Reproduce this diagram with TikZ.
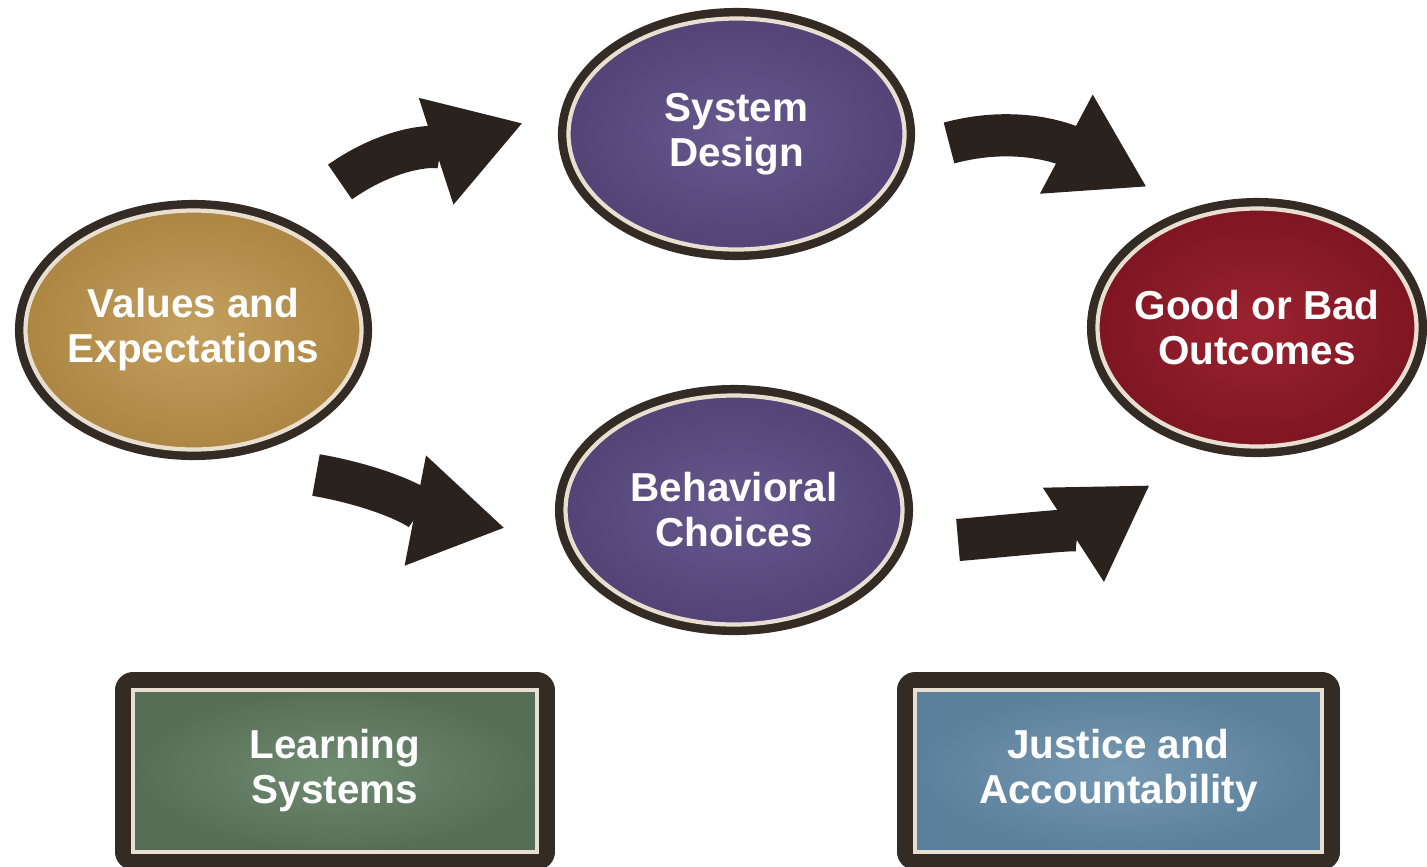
\documentclass[tikz,border=0pt]{standalone}
\usepackage{fontspec}
\setmainfont{Liberation Sans}
\usetikzlibrary{shapes.geometric,arrows.meta}

\definecolor{edge}{HTML}{342B24}
\definecolor{rim}{HTML}{E8DFD0}
\definecolor{arrowdark}{HTML}{2A221D}
\definecolor{goldin}{HTML}{C4A060}
\definecolor{goldout}{HTML}{AC8642}
\definecolor{plumin}{HTML}{67598D}
\definecolor{plumout}{HTML}{524477}
\definecolor{winein}{HTML}{9C2230}
\definecolor{wineout}{HTML}{7E1622}
\definecolor{sagein}{HTML}{6F8C71}
\definecolor{sageout}{HTML}{566E56}
\definecolor{skyin}{HTML}{7699B3}
\definecolor{skyout}{HTML}{5B809B}

\begin{document}
\begin{tikzpicture}[
    bubble/.style={ellipse, draw=rim, line width=1.2pt,
        preaction={draw=edge, line width=6pt},
        inner xsep=-9pt, inner ysep=0pt, text=white, align=center,
        font=\bfseries\fontsize{11.5}{12.8}\selectfont},
    panel/.style={rectangle, draw=rim, line width=1.2pt,
        preaction={draw=edge, line width=10pt, line join=round},
        inner sep=1pt, text=white, align=center,
        font=\bfseries\fontsize{11.5}{12.8}\selectfont},
    flow/.style={draw=arrowdark, line width=12pt,
        -{Triangle[length=26pt, width=30pt]}}
]
    \useasboundingbox (0,0) rectangle (14.27,-8.66);

    % the four ellipses
    \node [bubble, inner color=goldin, outer color=goldout,
        minimum width=3.36cm, minimum height=2.39cm]
        (values) at (1.935,-3.30) {Values and\\Expectations};
    \node [bubble, inner color=plumin, outer color=plumout,
        minimum width=3.36cm, minimum height=2.31cm]
        (design) at (7.365,-1.34) {System\\Design};
    \node [bubble, inner color=plumin, outer color=plumout,
        minimum width=3.37cm, minimum height=2.29cm]
        (choices) at (7.34,-5.10) {Behavioral\\Choices};
    \node [bubble, inner color=winein, outer color=wineout,
        minimum width=3.19cm, minimum height=2.38cm]
        (outcomes) at (12.57,-3.275) {Good or Bad\\Outcomes};

    % the two boxes
    \node [panel, inner color=sagein, outer color=sageout,
        minimum width=4.04cm, minimum height=1.62cm]
        (learning) at (3.35,-7.71) {Learning\\Systems};
    \node [panel, inner color=skyin, outer color=skyout,
        minimum width=4.07cm, minimum height=1.62cm]
        (justice) at (11.185,-7.71) {Justice and\\Accountability};

    % block arrows
    \coordinate (up tail) at (3.40,-1.82);
    \coordinate (up tip) at (5.23,-1.23);
    \coordinate (down tail) at (3.16,-4.75);
    \coordinate (down tip) at (5.05,-5.28);
    \coordinate (right tail) at (9.49,-1.43);
    \coordinate (right tip) at (11.47,-1.87);
    \coordinate (rise tail) at (9.58,-5.40);
    \coordinate (rise tip) at (11.50,-4.85);

    \draw [flow] (up tail) to [out=35, in=198] (up tip);
    \draw [flow] (down tail) to [out=-10, in=169] (down tip);
    \draw [flow] (right tail) to [out=15, in=152] (right tip);
    \draw [flow] (rise tail) to [out=5, in=213] (rise tip);
\end{tikzpicture}
\end{document}
